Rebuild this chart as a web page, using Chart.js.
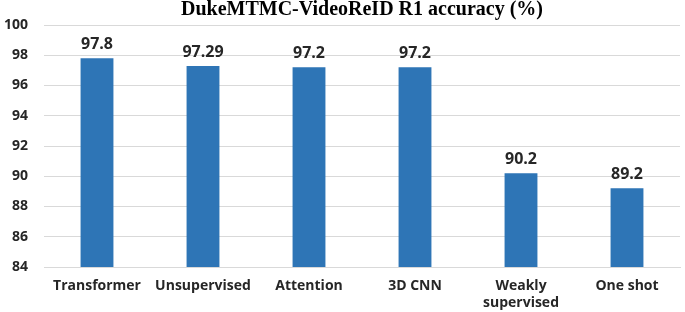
<!DOCTYPE html>
<html>
<head>
<meta charset="utf-8">
<script src="https://cdn.jsdelivr.net/npm/chart.js@4.4.0/dist/chart.umd.min.js"></script>
<style>
  html, body { margin: 0; padding: 0; background: #fff; }
  #wrap { width: 685px; height: 312px; }
</style>
</head>
<body>
<div id="wrap"><canvas id="accuracy-chart"></canvas></div>
<script>
var categories = ['Transformer', 'Unsupervised', 'Attention', '3D CNN', ['Weakly', 'supervised'], 'One shot'];
var r1_values = [97.8, 97.29, 97.2, 97.2, 90.2, 89.2];
var value_labels = ['97.8', '97.29', '97.2', '97.2', '90.2', '89.2'];
var y_min = 84;
var y_max = 100;
var y_step = 2;

// draws the value above every bar
var valueLabels = {
    id: 'valueLabels',
    afterDatasetsDraw: function (chart) {
        var ctx = chart.ctx;
        var meta = chart.getDatasetMeta(0);
        ctx.save();
        ctx.font = 'bold 16px "Open Sans", sans-serif';
        ctx.fillStyle = '#262626';
        ctx.textAlign = 'center';
        ctx.textBaseline = 'bottom';
        meta.data.forEach(function (bar, i) {
            ctx.fillText(value_labels[i], bar.x, bar.y - 6);
        });
        ctx.restore();
    }
};

var ctx = document.getElementById('accuracy-chart');
var AccuracyChart = new Chart(ctx, {
    type: 'bar',
    data: {
        labels: categories,
        datasets: [{
            label: 'R1 accuracy',
            data: r1_values,
            backgroundColor: '#2E75B6',
            borderWidth: 0,
            categoryPercentage: 1,
            barPercentage: 0.31
        }]
    },
    plugins: [valueLabels],
    options: {
        responsive: true,
        maintainAspectRatio: false,
        animation: false,
        layout: {
            padding: { left: 0, right: 5, top: 0, bottom: 0 }
        },
        plugins: {
            legend: { display: false },
            tooltip: { enabled: false },
            title: {
                display: true,
                fullSize: false,
                text: 'DukeMTMC-VideoReID R1 accuracy (%)',
                color: '#000',
                font: { family: '"Liberation Serif", "Times New Roman", serif', size: 20, weight: 'bold', lineHeight: 1 },
                padding: { top: 0, bottom: 5 }
            }
        },
        scales: {
            x: {
                grid: { display: false, drawTicks: false },
                border: { display: true, color: '#d9d9d9' },
                ticks: {
                    color: '#262626',
                    font: { family: '"Open Sans", sans-serif', size: 14, weight: 'bold' },
                    padding: 11,
                    maxRotation: 0,
                    autoSkip: false
                },
                afterFit: function (scale) { scale.height = 45; }
            },
            y: {
                min: y_min,
                max: y_max,
                grid: { color: '#d9d9d9', drawTicks: false },
                border: { display: false },
                ticks: {
                    stepSize: y_step,
                    color: '#262626',
                    font: { family: '"Open Sans", sans-serif', size: 14, weight: 'bold' },
                    padding: 16
                },
                afterFit: function (scale) { scale.width = 44; }
            }
        }
    }
});
</script>
</body>
</html>
